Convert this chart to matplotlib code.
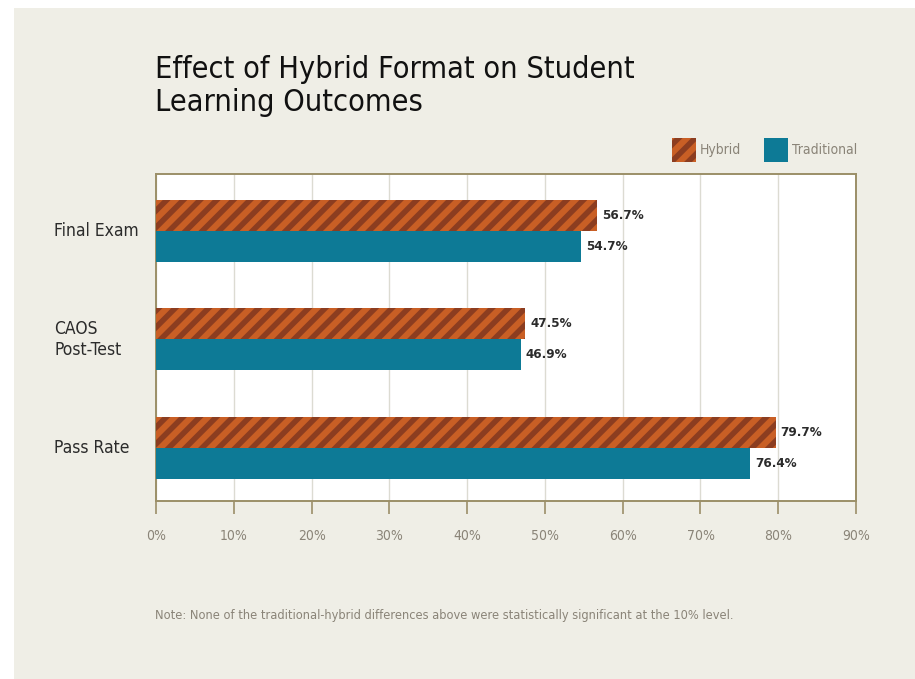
import numpy as np
import matplotlib
matplotlib.use("Agg")
import matplotlib.pyplot as plt
import matplotlib.transforms as mtransforms
from matplotlib.patches import Rectangle, Patch

plt.rcParams['font.family'] = ['DejaVu Sans']
plt.rcParams['font.stretch'] = 'condensed'
plt.rcParams['hatch.linewidth'] = 4.0

categories = ['Final Exam', 'CAOS\nPost-Test', 'Pass Rate']
hybrid = [56.7, 47.5, 79.7]
traditional = [54.7, 46.9, 76.4]
xticks = [0, 10, 20, 30, 40, 50, 60, 70, 80, 90]

bg = '#efeee6'
orange = '#c95f25'
stripe = '#8c3d20'
teal = '#0d7a96'
spine = '#9b8f68'
grey_txt = '#8a8478'
dark_txt = '#2b2b2b'

fig = plt.figure(figsize=(9.15, 6.79), dpi=100)
fig.patch.set_facecolor('white')
fig.patches.append(Rectangle((14 / 915, 0), 1 - 14 / 915, 1 - 8 / 679,
                             transform=fig.transFigure, facecolor=bg,
                             edgecolor='none', zorder=-10))

ax = fig.add_axes([156 / 915, 1 - 501 / 679, 700 / 915, 327 / 679])
ax.set_facecolor('white')

y = np.arange(len(categories))
h = 0.286
ax.barh(y - h / 2, hybrid, height=h, color=orange, edgecolor=stripe,
        hatch='//', linewidth=0, zorder=3)
ax.barh(y + h / 2, traditional, height=h, color=teal, linewidth=0, zorder=3)

for i in range(len(categories)):
    ax.text(hybrid[i] + 0.6, y[i] - h / 2, f'{hybrid[i]:.1f}%', va='center',
            ha='left', fontsize=9.6, fontweight='bold', color=dark_txt, zorder=4)
    ax.text(traditional[i] + 0.6, y[i] + h / 2, f'{traditional[i]:.1f}%', va='center',
            ha='left', fontsize=9.6, fontweight='bold', color=dark_txt, zorder=4)

ax.set_xlim(0, 90)
ax.set_ylim(2.49, -0.525)
ax.set_xticks(xticks)
ax.set_xticklabels([f'{t}%' for t in xticks], fontsize=10, color=grey_txt)
ax.tick_params(axis='x', length=9, width=1.2, color=spine, pad=11)
ax.set_yticks([])
ax.grid(axis='x', color='#dcdbd2', linewidth=1, zorder=0)
for s in ax.spines.values():
    s.set_color(spine)
    s.set_linewidth(1.4)

trans = mtransforms.blended_transform_factory(fig.transFigure, ax.transData)
for i, c in enumerate(categories):
    ax.text(54 / 915, y[i], c, transform=trans, ha='left', va='center',
            fontsize=12.5, color=dark_txt, linespacing=1.2)

fig.text(155 / 915, 1 - 55 / 679, 'Effect of Hybrid Format on Student\nLearning Outcomes',
         ha='left', va='top', fontsize=22, color='#111111', linespacing=1.17)

handles = [Patch(facecolor=orange, edgecolor=stripe, hatch='//', linewidth=0),
           Patch(facecolor=teal, linewidth=0)]
fig.legend(handles, ['Hybrid', 'Traditional'], loc='center right',
           bbox_to_anchor=(864 / 915, 1 - 150 / 679), ncol=2, frameon=False,
           fontsize=10, labelcolor=grey_txt, handlelength=1.75, handleheight=2.2,
           handletextpad=0.25, columnspacing=1.65, borderpad=0)

fig.text(155 / 915, 1 - 615 / 679,
         'Note: None of the traditional-hybrid differences above were statistically significant at the 10% level.',
         ha='left', va='center', fontsize=9.2, color=grey_txt)

fig.savefig('out.png', dpi=100, facecolor=fig.get_facecolor())
